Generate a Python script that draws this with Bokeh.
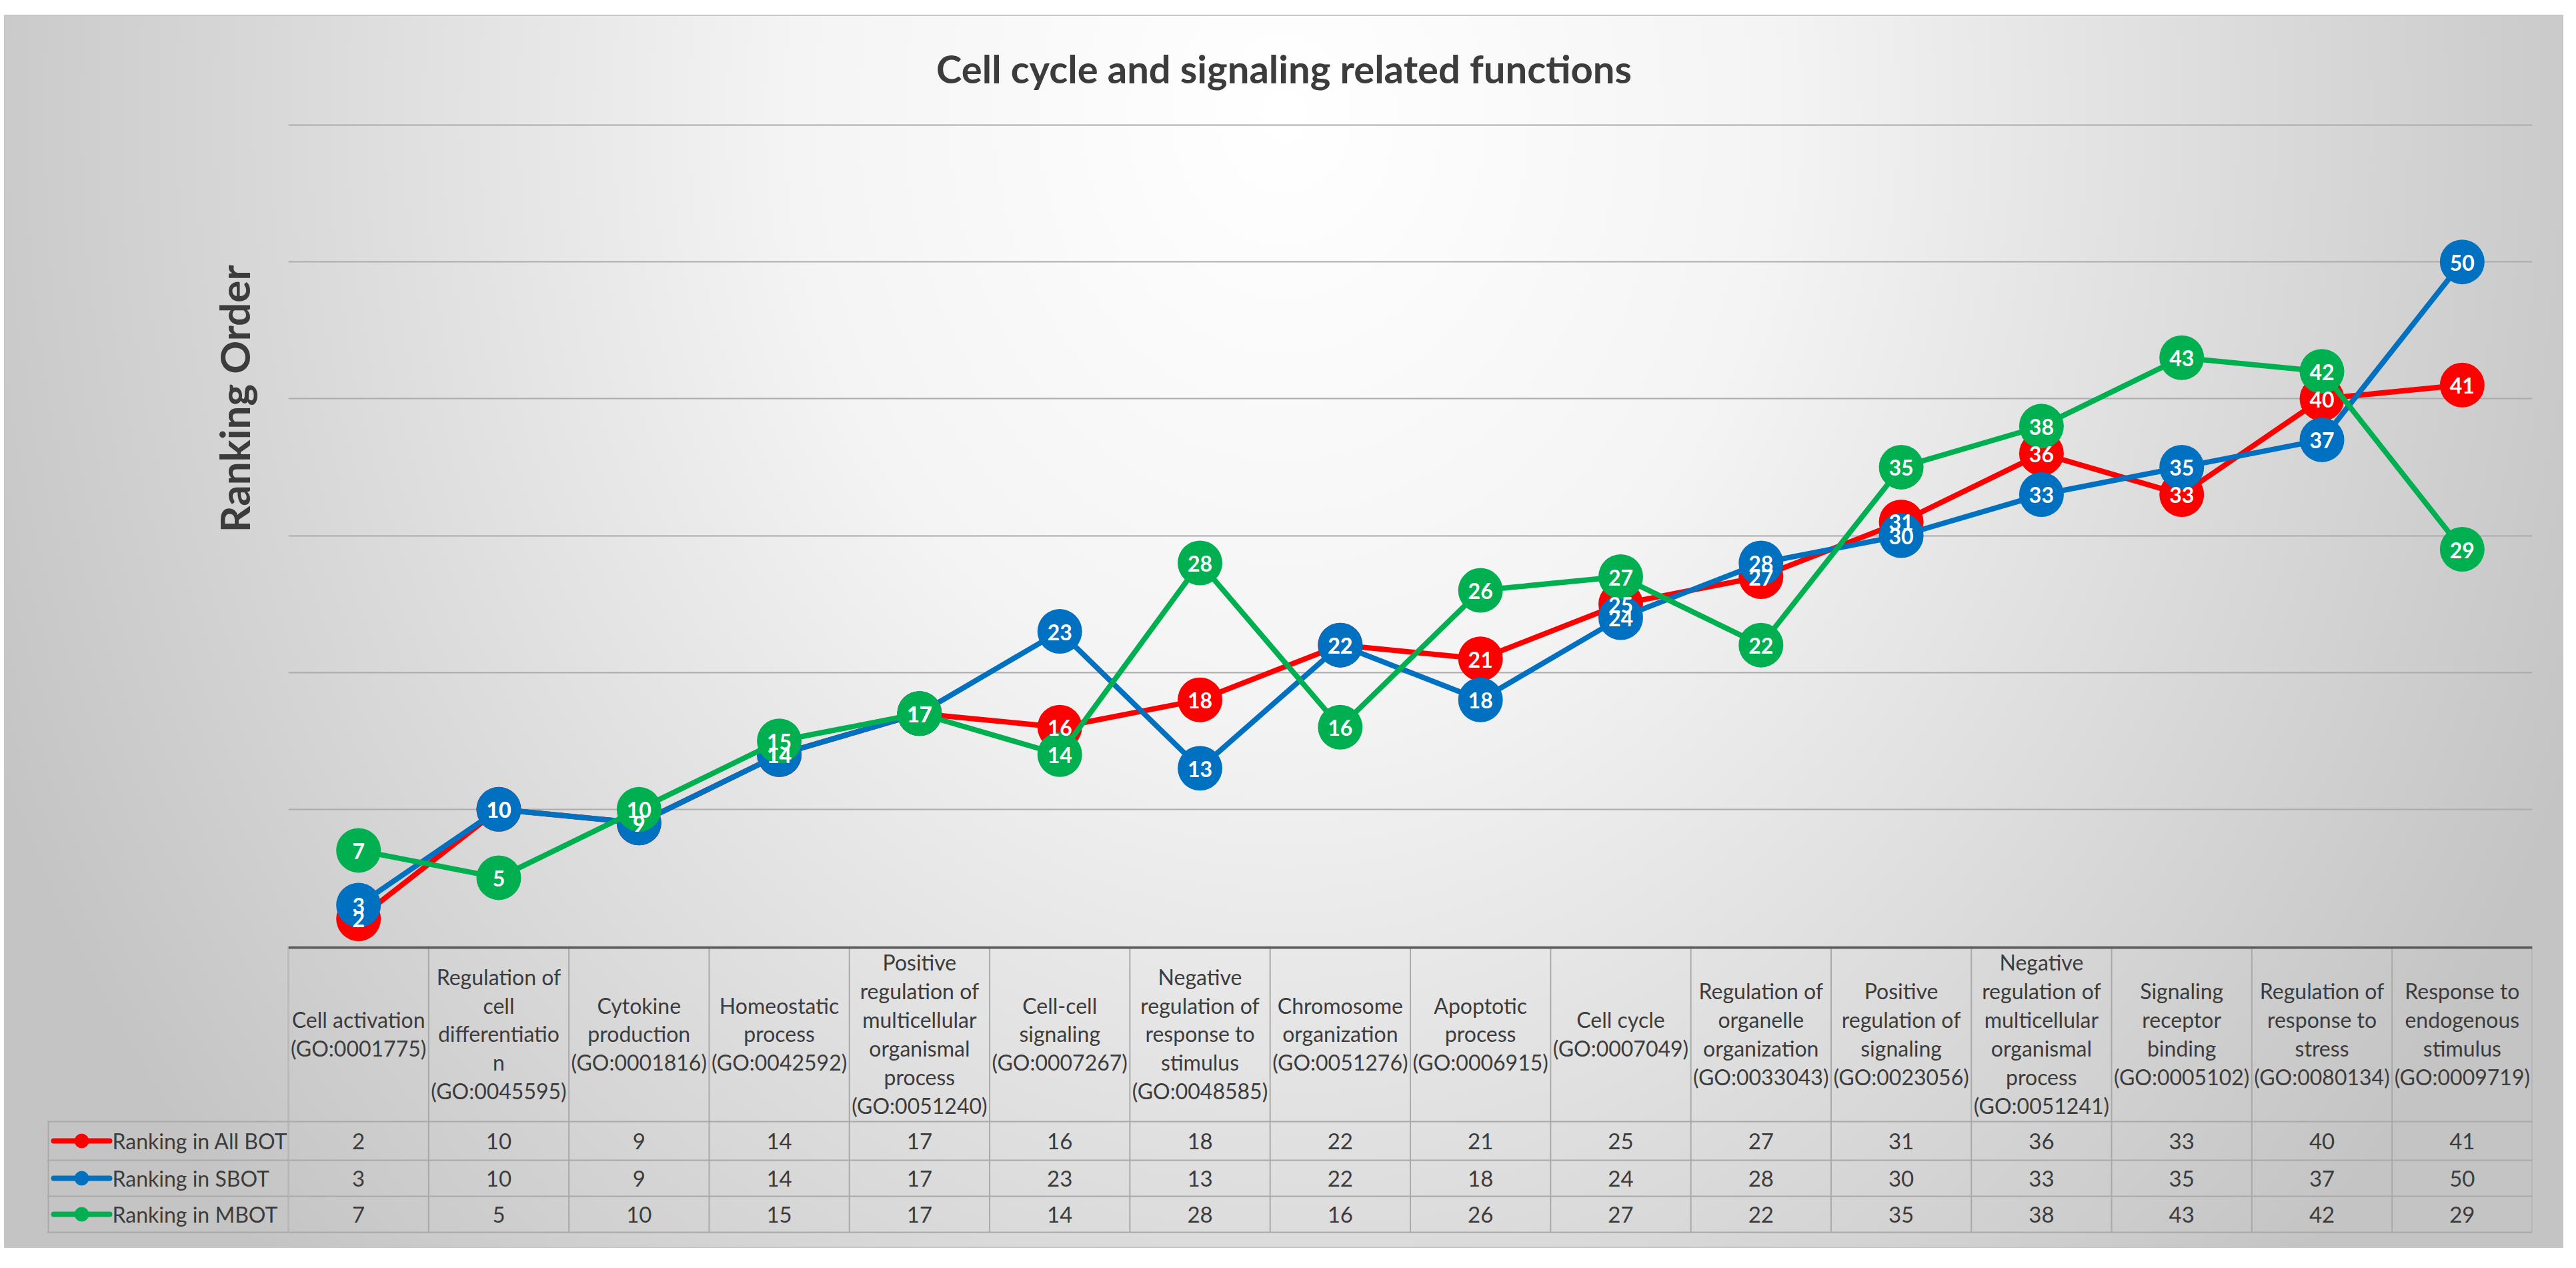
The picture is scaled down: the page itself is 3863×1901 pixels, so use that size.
from bokeh.plotting import figure
from bokeh.models import Range1d, FactorRange, FixedTicker, ColumnDataSource, Spacer
from bokeh.layouts import column, row
from bokeh.core.properties import value
from bokeh.embed import file_html
from bokeh.resources import INLINE
import math

# ---------------- data ----------------
title_text = "Cell cycle and signaling related functions"
y_title = "Ranking Order"

categories = [
    "Cell activation\n(GO:0001775)",
    "Regulation of\ncell\ndifferentiatio\nn\n(GO:0045595)",
    "Cytokine\nproduction\n(GO:0001816)",
    "Homeostatic\nprocess\n(GO:0042592)",
    "Positive\nregulation of\nmulticellular\norganismal\nprocess\n(GO:0051240)",
    "Cell-cell\nsignaling\n(GO:0007267)",
    "Negative\nregulation of\nresponse to\nstimulus\n(GO:0048585)",
    "Chromosome\norganization\n(GO:0051276)",
    "Apoptotic\nprocess\n(GO:0006915)",
    "Cell cycle\n(GO:0007049)",
    "Regulation of\norganelle\norganization\n(GO:0033043)",
    "Positive\nregulation of\nsignaling\n(GO:0023056)",
    "Negative\nregulation of\nmulticellular\norganismal\nprocess\n(GO:0051241)",
    "Signaling\nreceptor\nbinding\n(GO:0005102)",
    "Regulation of\nresponse to\nstress\n(GO:0080134)",
    "Response to\nendogenous\nstimulus\n(GO:0009719)",
]

series_names = ["Ranking in All BOT", "Ranking in SBOT", "Ranking in MBOT"]
all_bot = [2, 10, 9, 14, 17, 16, 18, 22, 21, 25, 27, 31, 36, 33, 40, 41]
sbot = [3, 10, 9, 14, 17, 23, 13, 22, 18, 24, 28, 30, 33, 35, 37, 50]
mbot = [7, 5, 10, 15, 17, 14, 28, 16, 26, 27, 22, 35, 38, 43, 42, 29]
series_values = [all_bot, sbot, mbot]
series_colors = ["#FF0000", "#0070C0", "#00B050"]

y_ticks = [10, 20, 30, 40, 50, 60]
y_title_at = 40     # the axis title is centred on this level

# ---------------- style / layout ----------------
FONT = "Lato"
TXT = "#3c3c3c"
GRID = "#ababab"
CELL = "#a9a9a9"

W = 3834            # chart width
TOP = 161           # title band height
H_PLOT = 1233       # plot frame height
H_TAB = 451         # data table part
LEFT = 424          # plot frame left offset
RIGHT = 45
LEGW = 424          # legend column figure width
N = len(categories)
Y_END = 60 * H_PLOT / 1231.0

HEADER_B = 263
ROW_B = [263, 321, 375, 429]
ROW_C = [(ROW_B[i] + ROW_B[i + 1]) / 2 for i in range(3)]

GRAD = "radial-gradient(2100px 2500px at 50% 8%, #ffffff 0%, #f4f4f4 35%, #c4c4c4 100%)"

common = dict(output_backend="svg", toolbar_location=None,
              x_axis_location=None, y_axis_location=None)


def clean(q):
    q.xgrid.visible = False
    q.ygrid.visible = False
    q.outline_line_color = None
    q.background_fill_alpha = 0
    q.border_fill_alpha = 0


xr = FactorRange(factors=categories, range_padding=0, factor_padding=0)
yr = Range1d(0, Y_END)

# ---------------- title band ----------------
pt = figure(width=W, height=TOP, x_range=Range1d(0, W), y_range=Range1d(TOP, 0),
            min_border=0, **common)
clean(pt)
pt.text(x=[W / 2], y=[78], text=[title_text], text_color=TXT, text_font=value(FONT),
        text_font_style="bold", text_font_size="58px",
        text_align="center", text_baseline="middle")

# ---------------- axis title column ----------------
py = figure(width=LEFT, height=H_PLOT, x_range=Range1d(0, LEFT), y_range=yr,
            min_border=0, **common)
clean(py)
py.text(x=[342], y=[y_title_at], text=[y_title], angle=math.pi / 2, text_color=TXT,
        text_font=value(FONT), text_font_style="bold", text_font_size="62px",
        text_align="center", text_baseline="middle")

# ---------------- main plot ----------------
p = figure(width=W - LEFT, height=H_PLOT, x_range=xr, y_range=yr,
           min_border_left=0, min_border_right=RIGHT,
           min_border_top=0, min_border_bottom=0, **common)
clean(p)
p.ygrid.visible = True
p.ygrid.ticker = FixedTicker(ticks=y_ticks)
p.ygrid.grid_line_color = GRID
p.ygrid.grid_line_width = 2

sources = []
for vals, col in zip(series_values, series_colors):
    src = ColumnDataSource(dict(x=categories, y=vals, lab=[str(v) for v in vals]))
    sources.append(src)
    p.line("x", "y", source=src, line_color=col, line_width=8, line_join="round")
    p.scatter("x", "y", source=src, size=67, fill_color=col, line_color=col, line_width=0)

for src in sources:
    p.text("x", "y", text="lab", source=src, text_color="white",
           text_font=value(FONT), text_font_style="bold", text_font_size="32px",
           text_align="center", text_baseline="middle", y_offset=1)

# ---------------- legend column of data table ----------------
pc = figure(width=LEGW, height=H_TAB, x_range=Range1d(-2, 360), y_range=Range1d(H_TAB, 0),
            min_border_left=62, min_border_right=0, min_border_top=0, min_border_bottom=0,
            **common)
clean(pc)
pc.segment(x0=[-2] * 4, x1=[360] * 4, y0=ROW_B, y1=ROW_B, line_color=CELL, line_width=2)
pc.segment(x0=[0, 360], x1=[0, 360], y0=[ROW_B[0], 0], y1=[ROW_B[-1], ROW_B[-1]],
           line_color=CELL, line_width=2)
pc.segment(x0=[8] * 3, x1=[92] * 3, y0=ROW_C, y1=ROW_C, line_color=series_colors,
           line_width=8, line_cap="round")
pc.scatter(x=[50] * 3, y=ROW_C, size=21, fill_color=series_colors, line_color=series_colors)
pc.text(x=[96] * 3, y=ROW_C, text=series_names, text_color=TXT, text_font=value(FONT),
        text_font_size="32px", text_align="left", text_baseline="middle")

# ---------------- data table ----------------
pb = figure(width=W - LEGW, height=H_TAB, x_range=xr, y_range=Range1d(H_TAB, 0),
            min_border_left=0, min_border_right=RIGHT, min_border_top=0, min_border_bottom=0,
            **common)
clean(pb)
pb.segment(x0=list(range(N + 1)), x1=list(range(N + 1)), y0=[0] * (N + 1),
           y1=[ROW_B[-1]] * (N + 1), line_color=CELL, line_width=2)
pb.segment(x0=[0] * 4, x1=[N] * 4, y0=ROW_B, y1=ROW_B, line_color=CELL, line_width=2)
pb.segment(x0=[0], x1=[N], y0=[2], y1=[2], line_color="#5a5a5a", line_width=4)

pb.text(x=categories, y=[HEADER_B / 2] * N, text=categories, text_color=TXT,
        text_font=value(FONT), text_font_size="32px", text_line_height=1.1,
        text_align="center", text_baseline="middle")
for r, vals in enumerate(series_values):
    pb.text(x=categories, y=[ROW_C[r]] * N, text=[str(v) for v in vals], text_color=TXT,
            text_font=value(FONT), text_font_size="33px",
            text_align="center", text_baseline="middle")

inner = column(pt, row(py, p), row(pc, pb),
               styles={"background": GRAD, "outline": "2px solid #c6c6c6"})
root = column(Spacer(width=10, height=24), row(Spacer(width=8, height=10), inner))

open("out.html", "w").write(file_html(root, INLINE))
